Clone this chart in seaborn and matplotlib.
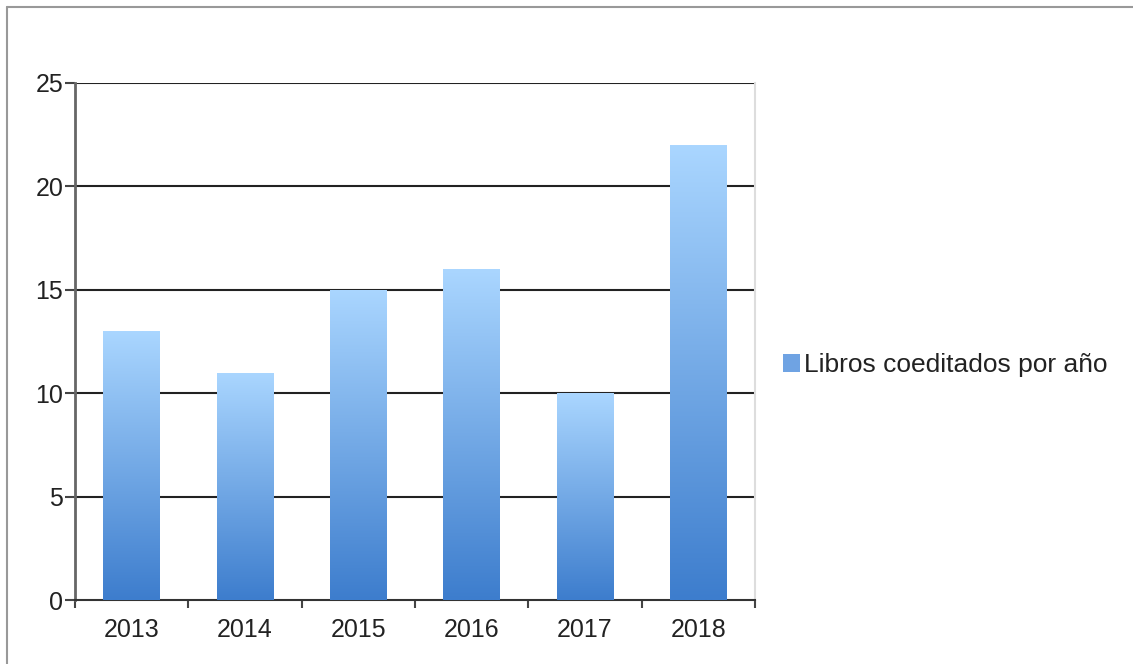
import matplotlib
matplotlib.use("Agg")
import matplotlib.pyplot as plt
import seaborn as sns
import numpy as np
import pandas as pd
from matplotlib.colors import LinearSegmentedColormap
from matplotlib.patches import Rectangle
from matplotlib.lines import Line2D

years = ["2013", "2014", "2015", "2016", "2017", "2018"]
values = [13, 11, 15, 16, 10, 22]
series_name = "Libros coeditados por año"
yticks = [0, 5, 10, 15, 20, 25]

sns.set_theme(style="white")
plt.rcParams['font.family'] = ['Liberation Sans', 'DejaVu Sans']

df = pd.DataFrame({"year": years, "value": values})

fig = plt.figure(figsize=(11.33, 6.64), dpi=100)
ax = fig.add_axes([75/1133, 64/664, 680/1133, 517/664])

sns.barplot(data=df, x="year", y="value", ax=ax, width=0.5, color="#6fa8e8", saturation=1)

cmap = LinearSegmentedColormap.from_list("g", ["#3d7dcd", "#aad6ff"])
grad = np.linspace(0, 1, 256).reshape(-1, 1)
for p in ax.patches:
    x0, y0 = p.get_x(), p.get_y()
    w, h = p.get_width(), p.get_height()
    p.set_facecolor("none")
    p.set_edgecolor("none")
    im = ax.imshow(grad, cmap=cmap, origin="lower", aspect="auto",
                   extent=[x0, x0 + w, y0, y0 + h], zorder=3, interpolation="bilinear")
    im.set_clip_path(p)

ax.set_xlim(-0.5, len(years) - 0.5)
ax.set_ylim(0, 25)
ax.set_yticks(yticks)
ax.set_yticklabels([str(t) for t in yticks])
ax.set_xticks(np.arange(len(years)))
ax.set_xticklabels(years)
ax.set_xticks(np.arange(len(years) + 1) - 0.5, minor=True)
ax.tick_params(axis="x", which="major", bottom=True, length=0, pad=13, labelsize=18, labelcolor="#222222")
ax.tick_params(axis="x", which="minor", bottom=True, length=6, width=1.5, color="#444444", direction="out")
ax.tick_params(axis="y", which="major", left=True, length=7, width=1.5, color="#444444", direction="out",
               pad=1.5, labelsize=18, labelcolor="#222222")
ax.set_xlabel("")
ax.set_ylabel("")

for t in yticks[1:]:
    ax.axhline(t, color="#222222", lw=1.5, zorder=2)

ax.spines["left"].set_color("#666666")
ax.spines["left"].set_linewidth(2)
ax.spines["bottom"].set_color("#333333")
ax.spines["bottom"].set_linewidth(1.5)
ax.spines["top"].set_visible(False)
ax.spines["right"].set_color("#dddddd")
ax.spines["right"].set_linewidth(1.5)

# legend
handle = Rectangle((0, 0), 1, 1, facecolor="#6fa3e3", edgecolor="none")
leg = fig.legend([handle], [series_name], loc="center left",
                 bbox_to_anchor=(759/1133, 1 - 365/664), frameon=False,
                 fontsize=19, handlelength=0.65, handleheight=0.65, handletextpad=0.15)
for t in leg.get_texts():
    t.set_color("#222222")

# outer border (top and left)
fig.add_artist(Line2D([7/1133, 1], [1 - 7/664, 1 - 7/664], color="#999999", lw=1.5, transform=fig.transFigure))
fig.add_artist(Line2D([7/1133, 7/1133], [0, 1 - 7/664], color="#999999", lw=1.5, transform=fig.transFigure))

fig.savefig("out.png", dpi=100)
